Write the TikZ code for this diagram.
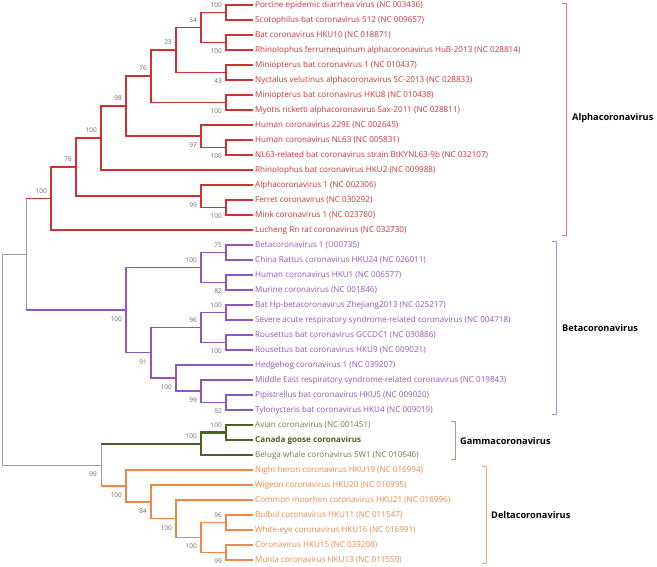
\documentclass[tikz,border=0pt]{standalone}
\usepackage{fontspec}
\setmainfont{Open Sans}
\definecolor{ca}{RGB}{208,50,50}
\definecolor{cb}{RGB}{145,85,190}
\definecolor{cg}{RGB}{72,98,32}
\definecolor{cgt}{RGB}{100,128,65}
\definecolor{cd}{RGB}{240,135,70}
\definecolor{cr}{RGB}{155,155,155}
\definecolor{bsc}{RGB}{105,105,105}
\definecolor{bra}{RGB}{225,120,125}
\definecolor{brb}{RGB}{175,140,210}
\definecolor{brg}{RGB}{150,160,140}
\definecolor{brd}{RGB}{245,175,135}
\newcommand{\leafnode}[4]{\node[leaf,#3] (#1) at (252,#2) {#4};}
\newcommand{\bsu}[2]{\node[bs,anchor=south east] (b#1) at ([xshift=-4pt,yshift=5pt]#1) {#2};}
\newcommand{\bsd}[2]{\node[bs,anchor=north east] (b#1) at ([xshift=-4pt,yshift=-6.5pt]#1) {#2};}
\begin{document}
\begin{tikzpicture}[x=1pt,y=-1pt,
  tree/.style={line width=1.2pt,line cap=rect},
  ta/.style={tree,draw=ca},
  tb/.style={tree,draw=cb},
  tg/.style={line width=2.2pt,line cap=rect,draw=cg},
  td/.style={tree,draw=cd},
  tr/.style={line width=1pt,line cap=rect,draw=cr},
  stem/.style={line cap=butt},
  leaf/.style={anchor=west,inner xsep=3pt,inner ysep=0pt,font=\fontsize{8.1}{9}\selectfont,text height=6.2pt,text depth=1.2pt},
  la/.style={text=ca},
  lb/.style={text=cb},
  lg/.style={text=cgt},
  lgb/.style={text=cg,font=\fontsize{8.1}{9}\selectfont\bfseries},
  ld/.style={text=cd},
  bs/.style={inner sep=0pt,font=\fontsize{6.5}{7}\selectfont,text=bsc,text height=4.7pt,text depth=0pt},
  clade/.style={anchor=west,inner sep=0pt,font=\fontsize{9.2}{11}\selectfont\bfseries,text=black},
  brk/.style={line width=0.9pt}
]
\useasboundingbox (0,0) rectangle (657,566);
% ---------- leaves
\leafnode{L1}{5}{la}{Porcine epidemic diarrhea virus (NC 003436)}
\leafnode{L2}{20}{la}{Scotophilus bat coronavirus 512 (NC 009657)}
\leafnode{L3}{35}{la}{Bat coronavirus HKU10 (NC 018871)}
\leafnode{L4}{50}{la}{Rhinolophus ferrumequinum alphacoronavirus HuB-2013 (NC 028814)}
\leafnode{L5}{65}{la}{Miniopterus bat coronavirus 1 (NC 010437)}
\leafnode{L6}{80}{la}{Nyctalus velutinus alphacoronavirus SC-2013 (NC 028833)}
\leafnode{L7}{95}{la}{Miniopterus bat coronavirus HKU8 (NC 010438)}
\leafnode{L8}{110}{la}{Myotis ricketti alphacoronavirus Sax-2011 (NC 028811)}
\leafnode{L9}{125}{la}{Human coronavirus 229E (NC 002645)}
\leafnode{L10}{140}{la}{Human coronavirus NL63 (NC 005831)}
\leafnode{L11}{155}{la}{NL63-related bat coronavirus strain BtKYNL63-9b (NC 032107)}
\leafnode{L12}{170}{la}{Rhinolophus bat coronavirus HKU2 (NC 009988)}
\leafnode{L13}{185}{la}{Alphacoronavirus 1 (NC 002306)}
\leafnode{L14}{200}{la}{Ferret coronavirus (NC 030292)}
\leafnode{L15}{215}{la}{Mink coronavirus 1 (NC 023760)}
\leafnode{L16}{230}{la}{Lucheng Rn rat coronavirus (NC 032730)}
\leafnode{L17}{245}{lb}{Betacoronavirus 1 (U00735)}
\leafnode{L18}{260}{lb}{China Rattus coronavirus HKU24 (NC 026011)}
\leafnode{L19}{275}{lb}{Human coronavirus HKU1 (NC 006577)}
\leafnode{L20}{290}{lb}{Murine coronavirus (NC 001846)}
\leafnode{L21}{305}{lb}{Bat Hp-betacoronavirus Zhejiang2013 (NC 025217)}
\leafnode{L22}{320}{lb}{Severe acute respiratory syndrome-related coronavirus (NC 004718)}
\leafnode{L23}{335}{lb}{Rousettus bat coronavirus GCCDC1 (NC 030886)}
\leafnode{L24}{350}{lb}{Rousettus bat coronavirus HKU9 (NC 009021)}
\leafnode{L25}{365}{lb}{Hedgehog coronavirus 1 (NC 039207)}
\leafnode{L26}{380}{lb}{Middle East respiratory syndrome-related coronavirus (NC 019843)}
\leafnode{L27}{395}{lb}{Pipistrellus bat coronavirus HKU5 (NC 009020)}
\leafnode{L28}{410}{lb}{Tylonycteris bat coronavirus HKU4 (NC 009019)}
\leafnode{L29}{425}{lg}{Avian coronavirus (NC 001451)}
\leafnode{L30}{440}{lgb}{Canada goose coronavirus}
\leafnode{L31}{455}{lg}{Beluga whale coronavirus SW1 (NC 010646)}
\leafnode{L32}{470}{ld}{Night heron coronavirus HKU19 (NC 016994)}
\leafnode{L33}{485}{ld}{Wigeon coronavirus HKU20 (NC 016995)}
\leafnode{L34}{500}{ld}{Common moorhen coronavirus HKU21 (NC 016996)}
\leafnode{L35}{515}{ld}{Bulbul coronavirus HKU11 (NC 011547)}
\leafnode{L36}{530}{ld}{White-eye coronavirus HKU16 (NC 016991)}
\leafnode{L37}{545}{ld}{Coronavirus HKU15 (NC 039208)}
\leafnode{L38}{560}{ld}{Munia coronavirus HKU13 (NC 011550)}
% ---------- internal nodes
\coordinate (R) at (2,359.5);
\coordinate (AB) at (26,254);
\coordinate (A0) at (51,198.5);
\coordinate (A1) at (76,167);
\coordinate (A2) at (101,138);
\coordinate (A3) at (126,106);
\coordinate (A4) at (151,76);
\coordinate (A5) at (176,50);
\coordinate (A6) at (201,27.5);
\coordinate (A7) at (226,12.5);
\coordinate (A8) at (226,42.5);
\coordinate (A9) at (226,72.5);
\coordinate (A10) at (226,102.5);
\coordinate (A11) at (201,136);
\coordinate (A12) at (226,147.5);
\coordinate (A13) at (201,196);
\coordinate (A14) at (226,207.5);
\coordinate (B0) at (126,310);
\coordinate (B1) at (201,267.5);
\coordinate (B2) at (226,252.5);
\coordinate (B3) at (226,282.5);
\coordinate (B4) at (151,352.75);
\coordinate (B5) at (201,327.5);
\coordinate (B6) at (226,312.5);
\coordinate (B7) at (226,342.5);
\coordinate (B8) at (176,378);
\coordinate (B9) at (201,391);
\coordinate (B10) at (226,402.5);
\coordinate (GD) at (101,465);
\coordinate (G0) at (201,443.75);
\coordinate (G1) at (226,432.5);
\coordinate (D0) at (126,486);
\coordinate (D1) at (151,502);
\coordinate (D2) at (176,518.75);
\coordinate (D3) at (201,537.5);
\coordinate (D4) at (226,522.5);
\coordinate (D5) at (226,552.5);
% ---------- root (grey)
\draw[tr] (R) |- (AB);
\draw[tr] (R) |- (GD);
\draw[tr] (AB |- A0) -- (AB |- B0);
\draw[tr] (GD |- G0) -- (GD |- D0);
% ---------- alpha
\draw[ta,stem] (AB |- A0) -- (A0);
\draw[ta] (A0) |- (A1);
\draw[ta] (A0) |- (L16.west);
\draw[ta] (A1) |- (A2);
\draw[ta] (A1) |- (A13);
\draw[ta] (A2) |- (A3);
\draw[ta] (A2) |- (L12.west);
\draw[ta] (A3) |- (A4);
\draw[ta] (A3) |- (A11);
\draw[ta] (A4) |- (A5);
\draw[ta] (A4) |- (A10);
\draw[ta] (A5) |- (A6);
\draw[ta] (A5) |- (A9);
\draw[ta] (A6) |- (A7);
\draw[ta] (A6) |- (A8);
\draw[ta] (A7) |- (L1.west);
\draw[ta] (A7) |- (L2.west);
\draw[ta] (A8) |- (L3.west);
\draw[ta] (A8) |- (L4.west);
\draw[ta] (A9) |- (L5.west);
\draw[ta] (A9) |- (L6.west);
\draw[ta] (A10) |- (L7.west);
\draw[ta] (A10) |- (L8.west);
\draw[ta] (A11) |- (L9.west);
\draw[ta] (A11) |- (A12);
\draw[ta] (A12) |- (L10.west);
\draw[ta] (A12) |- (L11.west);
\draw[ta] (A13) |- (L13.west);
\draw[ta] (A13) |- (A14);
\draw[ta] (A14) |- (L14.west);
\draw[ta] (A14) |- (L15.west);
% ---------- beta
\draw[tb,stem] (AB |- B0) -- (B0);
\draw[tb] (B0) |- (B1);
\draw[tb] (B0) |- (B4);
\draw[tb] (B1) |- (B2);
\draw[tb] (B1) |- (B3);
\draw[tb] (B2) |- (L17.west);
\draw[tb] (B2) |- (L18.west);
\draw[tb] (B3) |- (L19.west);
\draw[tb] (B3) |- (L20.west);
\draw[tb] (B4) |- (B5);
\draw[tb] (B4) |- (B8);
\draw[tb] (B5) |- (B6);
\draw[tb] (B5) |- (B7);
\draw[tb] (B6) |- (L21.west);
\draw[tb] (B6) |- (L22.west);
\draw[tb] (B7) |- (L23.west);
\draw[tb] (B7) |- (L24.west);
\draw[tb] (B8) |- (L25.west);
\draw[tb] (B8) |- (B9);
\draw[tb] (B9) |- (L26.west);
\draw[tb] (B9) |- (B10);
\draw[tb] (B10) |- (L27.west);
\draw[tb] (B10) |- (L28.west);
% ---------- gamma
\draw[tg,stem] (GD |- G0) -- (G0);
\draw[tg] (G0) |- (G1);
\draw[tg] (G0) |- (L31.west);
\draw[tg] (G1) |- (L29.west);
\draw[tg] (G1) |- (L30.west);
% ---------- delta
\draw[td,stem] (GD |- D0) -- (D0);
\draw[td] (D0) |- (L32.west);
\draw[td] (D0) |- (D1);
\draw[td] (D1) |- (L33.west);
\draw[td] (D1) |- (D2);
\draw[td] (D2) |- (L34.west);
\draw[td] (D2) |- (D3);
\draw[td] (D3) |- (D4);
\draw[td] (D3) |- (D5);
\draw[td] (D4) |- (L35.west);
\draw[td] (D4) |- (L36.west);
\draw[td] (D5) |- (L37.west);
\draw[td] (D5) |- (L38.west);
% ---------- bootstrap values
\bsu{A0}{100}
\bsu{A1}{78}
\bsu{A2}{100}
\bsu{A3}{98}
\bsu{A4}{76}
\bsu{A5}{23}
\bsu{A6}{54}
\bsu{A7}{100}
\bsd{A8}{100}
\bsd{A9}{43}
\bsd{A10}{100}
\bsd{A11}{97}
\bsd{A12}{100}
\bsd{A13}{99}
\bsd{A14}{100}
\bsd{B0}{100}
\bsu{B1}{100}
\bsu{B2}{75}
\bsd{B3}{82}
\bsd{B4}{91}
\bsu{B5}{96}
\bsu{B6}{100}
\bsd{B7}{100}
\bsd{B8}{100}
\bsd{B9}{99}
\bsd{B10}{92}
\bsd{GD}{99}
\bsu{G0}{100}
\bsu{G1}{100}
\bsd{D0}{100}
\bsd{D1}{84}
\bsd{D2}{100}
\bsd{D3}{100}
\bsu{D4}{96}
\bsd{D5}{99}
% ---------- clade brackets
\draw[brk,draw=bra] (562,3) -- (566,3) -- (566,235) -- (562,235);
\node[clade] (Calpha) at (572,118) {Alphacoronavirus};
\draw[brk,draw=brb] (552,241) -- (556,241) -- (556,414) -- (552,414);
\node[clade] (Cbeta) at (562,328) {Betacoronavirus};
\draw[brk,draw=brg] (451,421) -- (455,421) -- (455,459) -- (451,459);
\node[clade] (Cgamma) at (460,441) {Gammacoronavirus};
\draw[brk,draw=brd] (482,466) -- (486,466) -- (486,563) -- (482,563);
\node[clade] (Cdelta) at (491,515) {Deltacoronavirus};
\end{tikzpicture}
\end{document}
